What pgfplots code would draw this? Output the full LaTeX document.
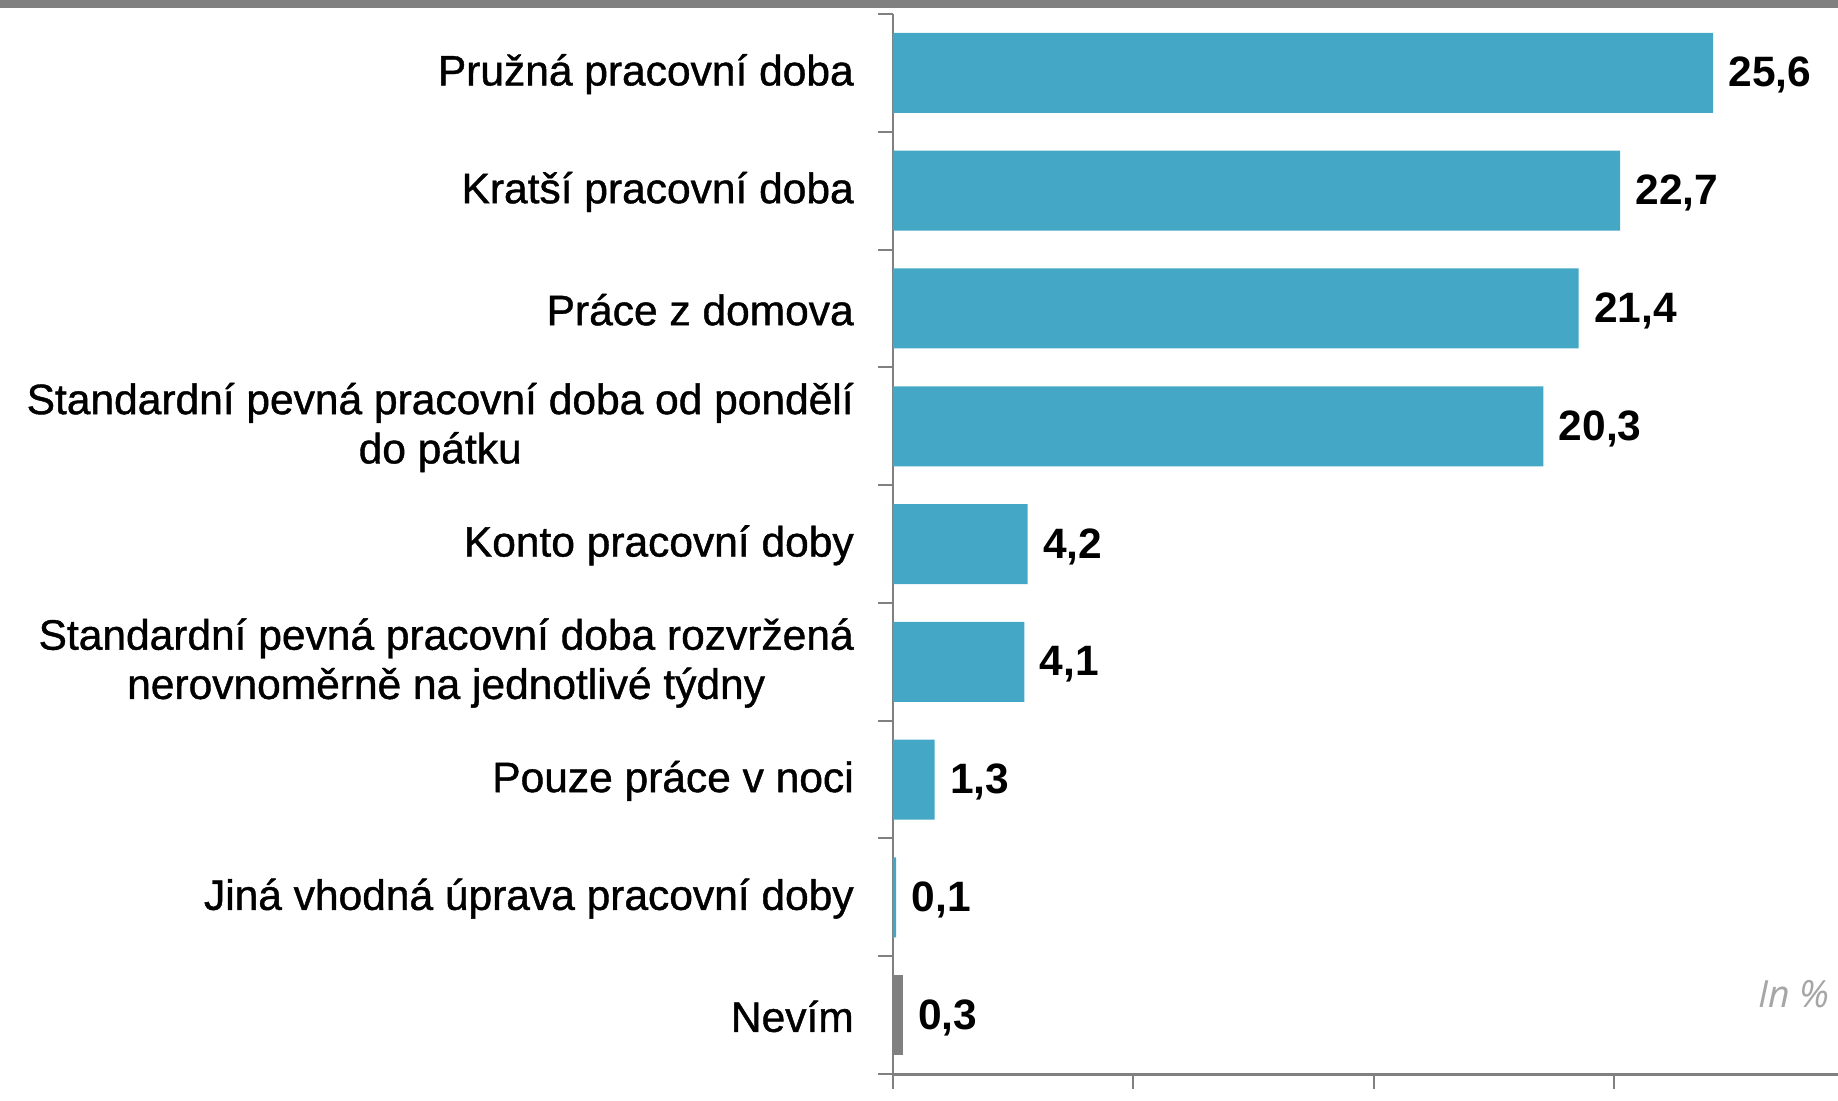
\documentclass[border=0pt]{standalone}
\usepackage{fontspec}
\setmainfont{Liberation Sans}[FakeBold=1]
\newfontfamily\valfont{Liberation Sans}
\newfontfamily\inpfont{Open Sans}
\usepackage{pgfplots}
\pgfplotsset{compat=1.18}
\definecolor{barblue}{HTML}{43A7C5}
\definecolor{axgray}{HTML}{808080}
\definecolor{notegray}{HTML}{A6A6A6}
\begin{document}
\begin{tikzpicture}
\useasboundingbox (-357.2pt,-10.4pt) rectangle (378pt,429.6pt);
\fill[axgray] (-357.2pt,426.4pt) rectangle (378pt,429.6pt);
\begin{axis}[
  at={(0pt,0pt)}, anchor=south west,
  width=378pt, height=424pt, scale only axis,
  xmin=0, xmax=29.5, ymin=-0.5, ymax=8.5, y dir=reverse,
  axis x line*=bottom, axis y line*=left,
  x axis line style={-, draw=axgray, line width=1.2pt},
  y axis line style={-, draw=axgray, line width=0.8pt},
  clip=false,
  tick align=outside,
  major tick length=6pt, minor tick length=6pt,
  xtick={0,7.5,15,22.5}, xticklabels={},
  x tick style={draw=axgray, line width=0.8pt},
  ytick={0,...,8},
  major y tick style={draw=none},
  minor ytick={-0.5,0.5,...,8.5},
  minor y tick style={draw=axgray, line width=0.8pt},
  yticklabels={
    Pružná pracovní doba,
    Kratší pracovní doba,
    Práce z domova,
    {Standardní pevná pracovní doba od pondělí\\do pátku},
    Konto pracovní doby,
    {Standardní pevná pracovní doba rozvržená\\nerovnoměrně na jednotlivé týdny},
    Pouze práce v noci,
    Jiná vhodná úprava pracovní doby,
    Nevím},
  yticklabel style={font=\fontsize{17}{19.7}\selectfont, align=center, inner sep=0pt, xshift=-9.5pt, yshift=-0.5pt},
  point meta=x,
  every node near coord/.append style={anchor=west, inner sep=0pt, xshift=6pt, yshift=-1pt,
     font=\valfont\bfseries\fontsize{17}{20}\selectfont, text=black},
  nodes near coords={\pgfmathprintnumber[assume math mode=true, use comma, fixed, precision=1, fixed zerofill]{\pgfplotspointmeta}},
]
\addplot[xbar, bar width=32pt, bar shift=0pt, fill=barblue, draw=none]
  coordinates {(25.6,0) (22.7,1) (21.4,2) (20.3,3) (4.2,4) (4.1,5) (1.3,6) (0.1,7)};
\addplot[xbar, bar width=32pt, bar shift=0pt, fill=axgray, draw=none]
  coordinates {(0.3,8)};
\node[anchor=east, inner sep=0pt, font=\inpfont\itshape\fontsize{15}{16}\selectfont, text=notegray] at (axis cs:29.25,7.82) {In \%};
\end{axis}
\end{tikzpicture}
\end{document}
